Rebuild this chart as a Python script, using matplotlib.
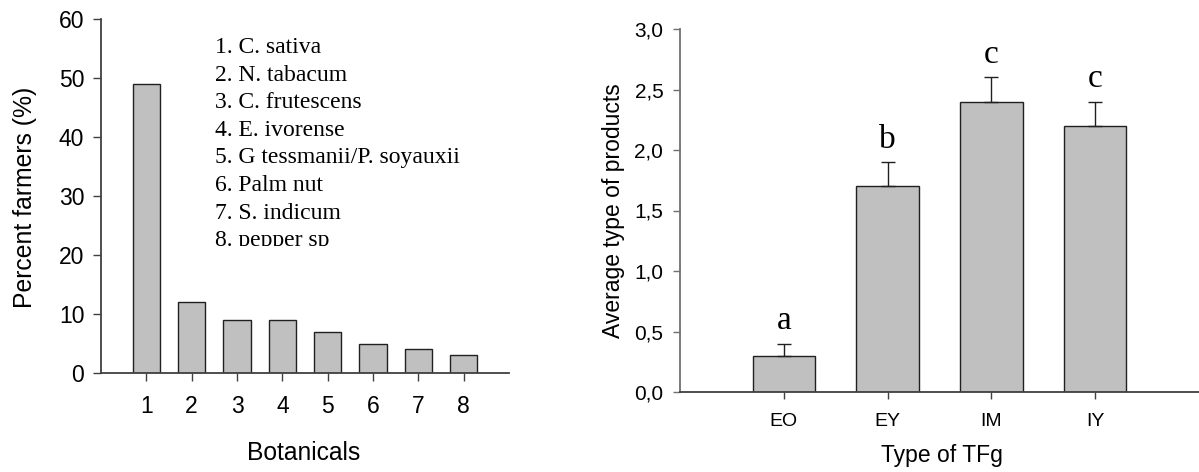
import matplotlib
matplotlib.use("Agg")
import matplotlib.pyplot as plt
from matplotlib.transforms import Bbox, TransformedBbox

# ---- data ----
botanical_ticks = ["1", "2", "3", "4", "5", "6", "7", "8"]
percent_farmers = [49, 12, 9, 9, 7, 5, 4, 3]
botanical_names = ["1. C. sativa", "2. N. tabacum", "3. C. frutescens", "4. E. ivorense",
                   "5. G tessmanii/P. soyauxii", "6. Palm nut", "7. S. indicum", "8. pepper sp"]

tfg_types = ["EO", "EY", "IM", "IY"]
avg_products = [0.3, 1.7, 2.4, 2.2]
avg_err = [0.1, 0.2, 0.2, 0.2]
sig_letters = ["a", "b", "c", "c"]

SANS = "Liberation Sans"
SERIF = "Liberation Serif"
W, H = 1199, 472
fig = plt.figure(figsize=(W / 100, H / 100), dpi=100)

bar_face = "#c0c0c0"
bar_edge = "#202020"
spine_col = "#404040"

# ---- left panel ----
axL = fig.add_axes([101 / W, 1 - 373 / H, (509 - 101) / W, (373 - 19) / H])
xL = list(range(1, len(percent_farmers) + 1))
axL.bar(xL, percent_farmers, width=0.6, color=bar_face, edgecolor=bar_edge, linewidth=1.0)
axL.set_xlim(0, 9)
axL.set_ylim(0, 60)
axL.set_xticks(xL)
axL.set_xticklabels(botanical_ticks)
axL.set_yticks([0, 10, 20, 30, 40, 50, 60])
for s in ["top", "right"]:
    axL.spines[s].set_visible(False)
for s in ["left", "bottom"]:
    axL.spines[s].set_color(spine_col)
    axL.spines[s].set_linewidth(1.3)
axL.tick_params(axis="y", direction="out", length=6, width=1, colors=spine_col, labelcolor="black",
                labelsize=16.5, pad=6)
axL.tick_params(axis="x", direction="out", length=6, width=1, colors=spine_col, labelcolor="black",
                labelsize=16.5, pad=10)
for lab in axL.get_xticklabels() + axL.get_yticklabels():
    lab.set_family(SANS)
axL.set_ylabel("Percent farmers (%)", fontsize=17.8, family=SANS, va="center")
axL.yaxis.set_label_coords(-0.186, 0.497)
axL.set_xlabel("Botanicals", fontsize=17.7, family=SANS, va="center")
axL.xaxis.set_label_coords(0.497, -0.226)

clip = TransformedBbox(Bbox([[0, 1 - 246 / H], [0.5, 1]]), fig.transFigure)
for i, name in enumerate(botanical_names):
    t = fig.text(215 / W, 1 - (53 + i * 27.6) / H, name, family=SERIF, fontsize=17,
                 va="baseline", ha="left")
    t.set_clip_box(clip)
    t.set_clip_on(True)

# ---- right panel ----
axR = fig.add_axes([680 / W, 1 - 392 / H, (W - 680) / W, (392 - 29) / H])
xR = list(range(len(tfg_types)))
axR.bar(xR, avg_products, width=0.6, color=bar_face, edgecolor=bar_edge, linewidth=1.0)
axR.errorbar(xR, avg_products, yerr=[[0] * len(avg_err), avg_err], fmt="none",
             ecolor=bar_edge, elinewidth=1.0, capsize=5, capthick=1.0)
for x, v, e, l in zip(xR, avg_products, avg_err, sig_letters):
    axR.text(x, v + e + 0.12, l, family=SERIF, fontsize=24, ha="center", va="baseline")
axR.set_xlim(-1, 4)
axR.set_ylim(0, 3.0)
axR.set_xticks(xR)
axR.set_xticklabels(tfg_types)
yt = [0, 0.5, 1.0, 1.5, 2.0, 2.5, 3.0]
axR.set_yticks(yt)
axR.set_yticklabels([f"{v:.1f}".replace(".", ",") for v in yt])
for s in ["top", "right"]:
    axR.spines[s].set_visible(False)
axR.spines["left"].set_color("#707070")
axR.spines["bottom"].set_color(spine_col)
axR.spines["left"].set_linewidth(1.3)
axR.spines["bottom"].set_linewidth(1.3)
axR.tick_params(axis="y", direction="out", length=5, width=1, colors="#707070", labelcolor="black",
                labelsize=15, pad=7)
axR.tick_params(axis="x", direction="out", length=5, width=1, colors=spine_col, labelcolor="black",
                labelsize=14, pad=10)
for lab in axR.get_xticklabels() + axR.get_yticklabels():
    lab.set_family(SANS)
axR.set_ylabel("Average type of products", fontsize=16.5, family=SANS, va="center")
axR.yaxis.set_label_coords(-0.129, 0.501)
axR.set_xlabel("Type of TFg", fontsize=16.5, family=SANS, va="center")
axR.xaxis.set_label_coords(0.505, -0.174)

fig.savefig("out.png", dpi=100)
